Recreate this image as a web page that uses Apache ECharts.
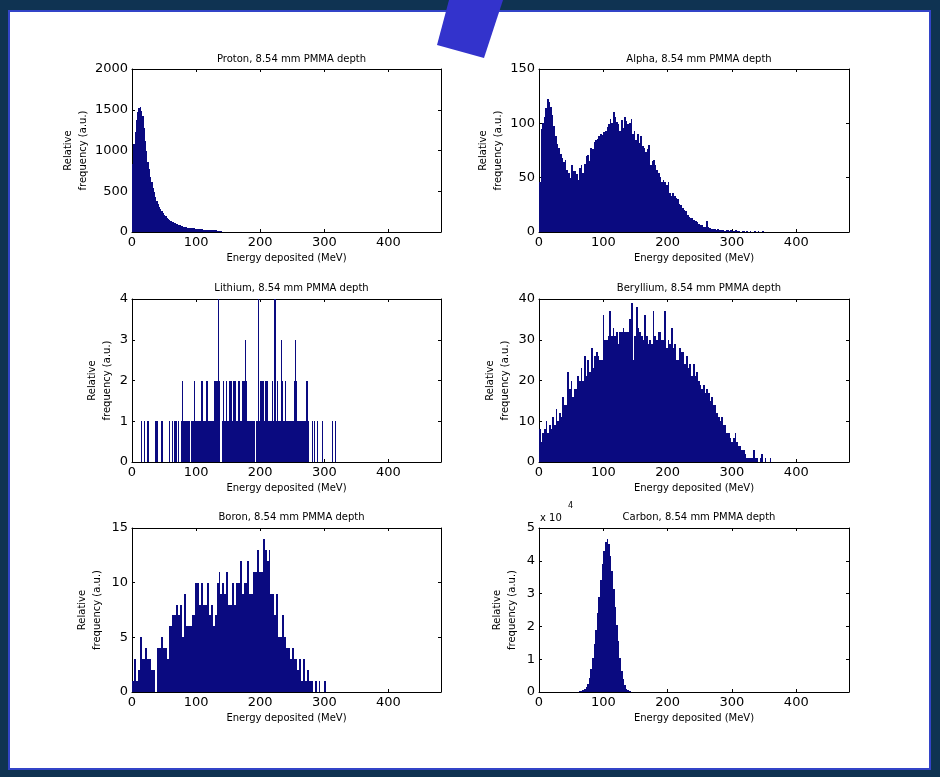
<!DOCTYPE html>
<html><head><meta charset="utf-8">
<script src="https://cdn.jsdelivr.net/npm/echarts@6/dist/echarts.min.js"></script>
<style>html,body{margin:0;padding:0;background:#0f3352;}#c{width:940px;height:777px;}</style>
</head><body><div id="c"></div>
<script>
// ---------------- DATA ----------------
const titles = [
  'Proton, 8.54 mm PMMA depth',
  'Alpha, 8.54 mm PMMA depth',
  'Lithium, 8.54 mm PMMA depth',
  'Beryllium, 8.54 mm PMMA depth',
  'Boron, 8.54 mm PMMA depth',
  'Carbon, 8.54 mm PMMA depth'
];
const xAxisName = 'Energy deposited (MeV)';
const yAxisName = 'Relative\nfrequency (a.u.)';
const energyMax = 482;
const energyTickStep = 100;
const yMaxes = [2000, 150, 4, 40, 15, 50000];
const yTickSteps = [500, 50, 1, 10, 5, 10000];
const carbonScaleLabel = 'x 10';
const carbonScaleExp = '4';

// histogram bins: first bin edge, bin width, counts
const protonStart = 0, protonBinWidth = 2;
const protonCounts = [830,1080,1230,1380,1470,1520,1535,1480,1420,1280,1120,990,860,770,680,610,545,485,430,385,345,310,280,255,230,210,192,175,160,148,137,126,117,108,100,94,88,82,76,71,66,62,58,55,52,50,48,46,44,42,40,38,36,34,32,30,29,27,26,25,24,23,22,21,20,19,18,17,16,12];

const alphaStart = 0, alphaBinWidth = 2.5;
const alphaCounts = [46,95,100,106,114,122,120,115,108,98,88,81,77,72,68,64,66,57,54,50,62,56,56,53,48,59,62,54,63,70,71,65,77,76,83,85,86,88,90,89,92,93,97,99,104,100,110,106,101,99,93,103,96,106,102,99,100,104,90,93,85,90,82,88,79,77,74,76,80,62,65,66,62,57,54,51,46,48,46,43,46,36,33,36,33,31,30,26,25,22,20,19,16,14,13,13,11,10,9,7,6,6,5,5,10,5,4,3,3,3,2,3,2,2,2,1,2,2,1,2,1,1,2,1,1,0,1,1,0,1,0,1,0,0,1,0,1,0,0,1];

const lithiumStart = 0, lithiumBinWidth = 2;
const lithiumCounts = [0,0,0,0,0,0,0,1,0,1,0,0,1,0,0,0,0,0,1,1,0,0,0,1,0,0,0,0,0,1,0,1,0,1,1,0,1,0,1,2,1,1,1,1,1,0,1,1,2,1,1,1,1,1,2,1,1,1,2,1,1,1,1,1,2,2,2,4,2,0,1,2,1,2,1,1,2,2,1,2,2,1,1,2,1,1,2,2,3,2,1,1,1,1,1,1,0,1,4,1,2,2,2,1,2,2,1,1,1,2,1,4,1,2,1,1,3,2,1,2,1,1,1,1,1,1,2,3,2,1,1,1,1,1,1,1,2,1,0,0,1,0,1,0,1,0,0,0,1,0,0,0,0,0,0,0,1,0,1,0];

const berylliumStart = 0, berylliumBinWidth = 2.6;
const berylliumCounts = [8,5,7,8,10,7,9,8,11,9,13,10,12,11,16,14,14,22,18,20,16,18,18,21,20,23,20,26,21,25,22,28,23,26,27,26,25,25,36,30,30,31,37,31,33,31,32,29,32,32,33,32,32,32,35,39,25,31,38,33,32,31,30,36,31,29,30,29,37,31,30,32,32,30,30,37,28,30,29,33,28,29,25,25,28,27,27,24,26,23,24,21,24,21,22,20,19,18,19,17,18,17,15,16,14,14,12,11,10,11,9,9,7,7,6,5,6,7,5,4,4,3,3,2,1,1,1,1,3,1,1,0,1,2,0,1,0,0,1,0];

const boronStart = 0, boronBinWidth = 3;
const boronCounts = [1,3,1,2,5,3,3,4,3,3,2,2,0,4,4,5,4,4,3,6,6,7,7,8,7,8,5,9,6,6,6,7,7,10,10,8,10,8,8,10,7,8,6,7,10,11,9,10,9,11,8,8,10,8,10,10,12,9,10,10,12,9,9,11,11,13,11,11,14,13,12,13,9,9,7,9,5,5,7,5,4,4,3,4,3,3,2,3,1,3,1,2,1,1,0,1,0,1,0,0,1];

const carbonStart = 55, carbonBinWidth = 2.5;
const carbonCounts = [50,100,150,200,300,500,800,1400,2500,4200,7000,10500,14500,19000,24000,29000,34000,39000,43000,45800,46600,45000,41500,37000,31500,26000,20500,15500,10500,6500,4000,2000,1000,500,200,100];

const histograms = [
  [protonStart, protonBinWidth, protonCounts],
  [alphaStart, alphaBinWidth, alphaCounts],
  [lithiumStart, lithiumBinWidth, lithiumCounts],
  [berylliumStart, berylliumBinWidth, berylliumCounts],
  [boronStart, boronBinWidth, boronCounts],
  [carbonStart, carbonBinWidth, carbonCounts]
];

// ---------------- LAYOUT / STYLE ----------------
const FONT = 'DejaVu Sans';
const BAR = '#0a0a80';
const colLeft = [132, 539], colWidth = [309, 310];
const rowTop = [69, 299, 528], rowHeight = [163, 163, 164];
const titleTop = [49, 278, 507];
const yNameGaps = [41, 33, 17, 26, 27, 19];

const grids = [], xAxes = [], yAxes = [], series = [], titleOpts = [];
for (let i = 0; i < 6; i++) {
  const col = i % 2, row = Math.floor(i / 2);
  grids.push({left: colLeft[col], top: rowTop[row], width: colWidth[col], height: rowHeight[row], containLabel: false});
  titleOpts.push({text: titles[i], left: colLeft[col] + colWidth[col] / 2, top: titleTop[row], textAlign: 'center',
    textStyle: {fontSize: 10, fontWeight: 'normal', color: '#000', fontFamily: FONT}});
  const tick = {show: true, inside: true, length: 3, lineStyle: {color: '#000', width: 1}};
  const line = {show: true, onZero: false, lineStyle: {color: '#000', width: 1}};
  xAxes.push({gridIndex: i, type: 'value', position: 'bottom', min: 0, max: energyMax, interval: energyTickStep,
    axisLine: line, axisTick: tick, splitLine: {show: false},
    axisLabel: {color: '#000', fontSize: 13, fontFamily: FONT, margin: 4, showMaxLabel: false},
    name: xAxisName, nameLocation: 'middle', nameGap: 21,
    nameTextStyle: {color: '#000', fontSize: 10, fontFamily: FONT}});
  xAxes.push({gridIndex: i, type: 'value', position: 'top', min: 0, max: energyMax, interval: energyTickStep,
    axisLine: line, axisTick: tick, splitLine: {show: false}, axisLabel: {show: false}});
  const fmt = i === 5 ? (v => String(v / 10000)) : (v => String(v));
  yAxes.push({gridIndex: i, type: 'value', position: 'left', min: 0, max: yMaxes[i], interval: yTickSteps[i],
    axisLine: line, axisTick: tick, splitLine: {show: false},
    axisLabel: {color: '#000', fontSize: 13, fontFamily: FONT, margin: 4, formatter: fmt},
    name: yAxisName, nameLocation: 'middle', nameRotate: 90, nameGap: yNameGaps[i],
    nameTextStyle: {color: '#000', fontSize: 10, lineHeight: 15, fontFamily: FONT, align: 'center'}});
  yAxes.push({gridIndex: i, type: 'value', position: 'right', min: 0, max: yMaxes[i], interval: yTickSteps[i],
    axisLine: line, axisTick: tick, splitLine: {show: false}, axisLabel: {show: false}});
  const h = histograms[i];
  const data = h[2].map((c, k) => [h[0] + k * h[1], h[0] + (k + 1) * h[1], c]);
  series.push({type: 'custom', xAxisIndex: 2 * i, yAxisIndex: 2 * i, clip: true, silent: true, z: 1,
    encode: {x: [0, 1], y: 2}, data: data,
    renderItem: function (params, api) {
      const a = api.coord([api.value(0), api.value(2)]);
      const b = api.coord([api.value(1), 0]);
      const x0 = Math.round(a[0]), x1 = Math.max(Math.round(b[0]), x0 + 1);
      const y0 = Math.round(a[1]), y1 = Math.round(b[1]);
      return {type: 'rect', shape: {x: x0, y: y0, width: x1 - x0, height: y1 - y0},
        style: {fill: BAR}};
    }});
}

const chart = echarts.init(document.getElementById('c'), null, {renderer: 'canvas'});
chart.setOption({
  backgroundColor: '#0f3352',
  animation: false,
  textStyle: {fontFamily: FONT},
  title: titleOpts,
  grid: grids,
  xAxis: xAxes,
  yAxis: yAxes,
  series: series,
  graphic: [
    {type: 'rect', z: -10, silent: true, shape: {x: 9, y: 11, width: 921, height: 758},
      style: {fill: '#ffffff', stroke: '#3344c8', lineWidth: 2}},
    {type: 'polygon', z: 100, silent: true, shape: {points: [[449, 0], [503, 0], [484, 58], [437, 45]]},
      style: {fill: '#3333cc'}},
    {type: 'text', z: 100, silent: true, x: 540, y: 513,
      style: {text: carbonScaleLabel, fontSize: 10, fill: '#000', fontFamily: FONT}},
    {type: 'text', z: 100, silent: true, x: 568, y: 502,
      style: {text: carbonScaleExp, fontSize: 8, fill: '#000', fontFamily: FONT}}
  ]
});
</script></body></html>
